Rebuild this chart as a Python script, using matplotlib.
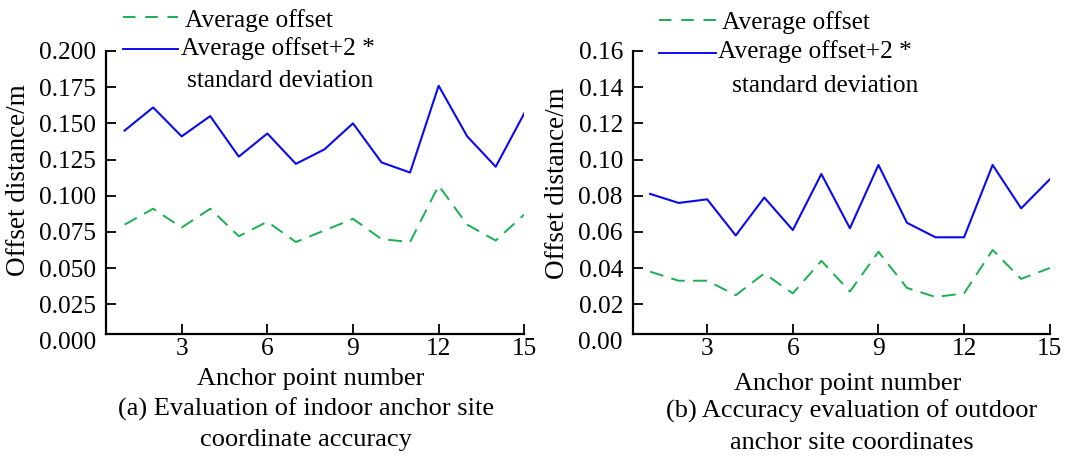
import numpy as np
import matplotlib
matplotlib.use('Agg')
import matplotlib.pyplot as plt
from matplotlib.lines import Line2D

plt.rcParams['font.family'] = ['Liberation Serif', 'DejaVu Serif']
plt.rcParams['lines.scale_dashes'] = False

# anchor point numbers
points = np.arange(1, 16)

# (a) indoor anchors
indoor_avg = [0.080, 0.091, 0.078, 0.091, 0.072, 0.082, 0.068, 0.076,
              0.084, 0.070, 0.068, 0.107, 0.080, 0.069, 0.087]
indoor_avg2sd = [0.145, 0.161, 0.141, 0.155, 0.127, 0.143, 0.122, 0.132,
                 0.150, 0.123, 0.116, 0.176, 0.141, 0.120, 0.157]

# (b) outdoor anchors
outdoor_avg = [0.038, 0.033, 0.033, 0.025, 0.037, 0.026, 0.044, 0.027,
               0.049, 0.029, 0.024, 0.026, 0.050, 0.034, 0.040]
outdoor_avg2sd = [0.081, 0.076, 0.078, 0.058, 0.079, 0.061, 0.092, 0.062,
                  0.097, 0.065, 0.057, 0.057, 0.097, 0.073, 0.089]

xticks = [3, 6, 9, 12, 15]
yticks_a = np.arange(0, 0.2001, 0.025)
yticks_b = np.arange(0, 0.1601, 0.02)

legend_labels = ['Average offset', 'Average offset+2 *', 'standard deviation']
xlabel = 'Anchor point number'
captions_a = ['(a) Evaluation of indoor anchor site', 'coordinate accuracy']
captions_b = ['(b) Accuracy evaluation of outdoor', 'anchor site coordinates']
ylabel = 'Offset distance/m'

green = '#1aaf50'
blue = '#0a0af0'

W, H = 1066, 461
fig = plt.figure(figsize=(W / 100, H / 100), dpi=100)


def fx(x):
    return x / W


def fy(y):
    return 1 - y / H


def setup_axes(left, right, ymax, yticks, fmt, xmin, yaxis0):
    top, bottom = 51, 340.4
    ax = fig.add_axes([fx(left), fy(bottom), (right - left) / W, (bottom - top) / H])
    ax.set_xlim(xmin, 15)
    ax.set_ylim(0, ymax)
    for s in ['top', 'right']:
        ax.spines[s].set_visible(False)
    ax.spines['bottom'].set_position(('data', yaxis0))
    ax.spines['left'].set_bounds(yaxis0, ymax)
    for s in ['left', 'bottom']:
        ax.spines[s].set_linewidth(1.6)
    ax.set_xticks(xticks)
    ax.set_yticks(yticks)
    ax.set_yticklabels([fmt % v for v in yticks])
    ax.tick_params(direction='in', length=7, width=1.3, labelsize=18.3)
    ax.tick_params(axis='x', pad=3)
    ax.tick_params(axis='y', pad=7)
    ax.yaxis.get_major_ticks()[0].tick1line.set_visible(False)
    return ax


def legend(x0, x1, xt, ys, yb, c2):
    # ys: line y positions, yb: text baselines
    fig.add_artist(Line2D([fx(x0), fx(x1)], [fy(ys[0])] * 2, transform=fig.transFigure,
                          color=green, lw=1.4, dashes=(9, 7)))
    fig.add_artist(Line2D([fx(x0), fx(x1)], [fy(ys[1])] * 2, transform=fig.transFigure,
                          color=blue, lw=1.4))
    fig.text(fx(xt), fy(yb[0]), legend_labels[0], fontsize=18.3, va='baseline')
    fig.text(fx(xt - 4), fy(yb[1]), legend_labels[1], fontsize=18.3, va='baseline')
    fig.text(fx(c2), fy(yb[2]), legend_labels[2], fontsize=18.3, va='baseline', ha='center')


# left panel
ax1 = setup_axes(106, 524.3, 0.2, yticks_a, '%.3f', 0.35, 0.0042)
ax1.plot(points, indoor_avg, color=green, lw=1.4, dashes=(10, 6))
ax1.plot(points, indoor_avg2sd, color=blue, lw=1.5)

# right panel
ax2 = setup_axes(632.7, 1049.7, 0.16, yticks_b, '%.2f', 0.39, 0.0034)
ax2.plot(points, outdoor_avg, color=green, lw=1.4, dashes=(10, 6))
ax2.plot(points, outdoor_avg2sd, color=blue, lw=1.5)

legend(123, 178, 185, (17, 49), (27.3, 55, 87.3), 280)
legend(659, 716, 722, (20, 53), (29.3, 58.3, 91.7), 825)

# axis titles and captions
fig.text(fx(19), fy(180), ylabel, fontsize=19.5, rotation=90, ha='center', va='center')
fig.text(fx(557), fy(183), ylabel, fontsize=19.5, rotation=90, ha='center', va='center')

fig.text(fx(311), fy(385), xlabel, fontsize=19, ha='center', va='baseline')
fig.text(fx(306), fy(416), captions_a[0], fontsize=19, ha='center', va='baseline')
fig.text(fx(306), fy(446), captions_a[1], fontsize=19, ha='center', va='baseline')

fig.text(fx(848), fy(390), xlabel, fontsize=19, ha='center', va='baseline')
fig.text(fx(852), fy(418), captions_b[0], fontsize=19, ha='center', va='baseline')
fig.text(fx(852), fy(449), captions_b[1], fontsize=19, ha='center', va='baseline')

fig.savefig('out.png', dpi=100)
